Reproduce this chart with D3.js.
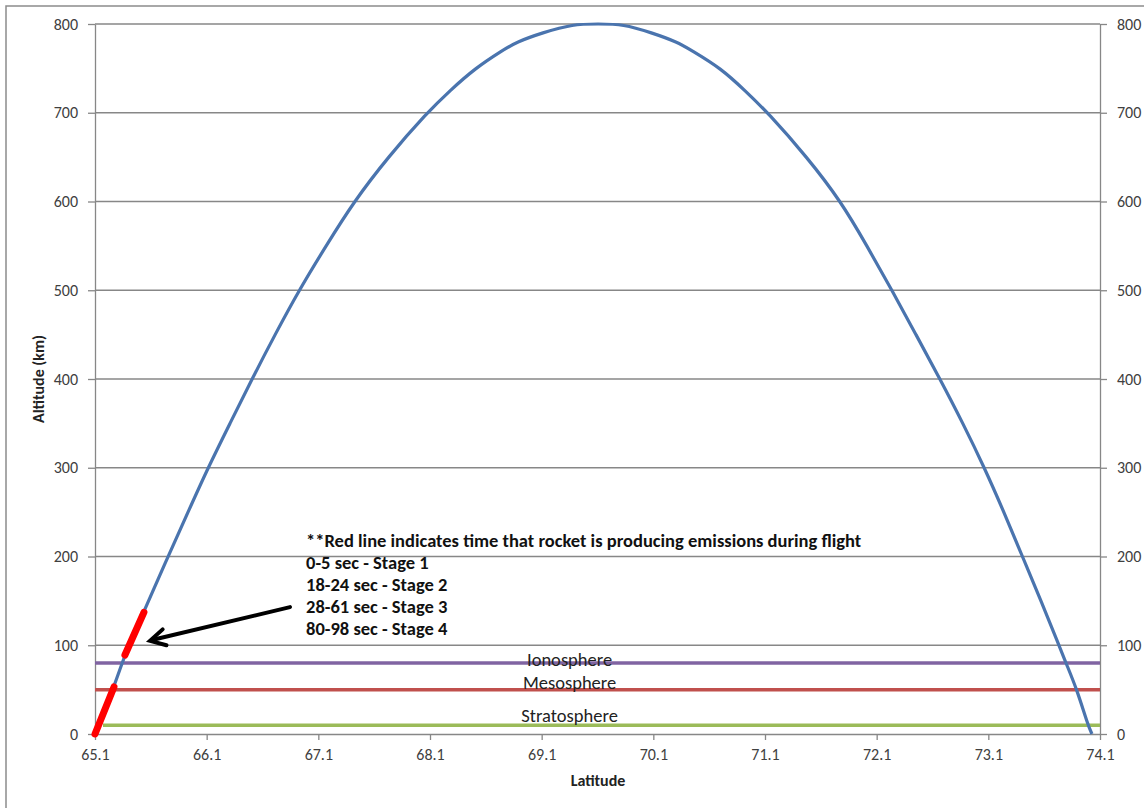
<!DOCTYPE html>
<html>
<head>
<meta charset="utf-8">
<script src="https://cdn.jsdelivr.net/npm/d3@7"></script>
<style>
  html, body { margin: 0; padding: 0; background: #fff; }
  svg { display: block; font-family: Carlito, Calibri, Lato, "Open Sans", sans-serif; }
</style>
</head>
<body>
<svg id="chart" width="1144" height="808"></svg>
<script>
// ---------- data ----------
const trajectoryLat = [65.1, 65.261, 65.342, 65.404, 65.754, 65.933, 66.112, 66.309, 66.506, 66.712, 66.927, 67.169, 67.419, 67.724, 68.073, 68.279, 68.503, 68.745, 68.88, 69.103, 69.381, 69.605, 69.828,
                       70.088, 70.31, 70.446, 70.706, 70.921, 71.127, 71.476, 71.781, 72.013, 72.237, 72.452, 72.667, 72.873, 73.065, 73.24, 73.405, 73.572, 73.733, 73.795, 73.894, 73.992, 74.028];
const trajectoryAlt = [0, 50, 80, 100, 200, 250, 300, 350, 400, 450, 500, 550, 600, 650, 700, 725, 750, 770, 780, 790, 800, 800, 800,
                       790, 780, 770, 750, 725, 700, 650, 600, 550, 500, 450, 400, 350, 300, 250, 200, 150, 100, 80, 50, 10, 0];

const emissionSeg1Lat = [65.1, 65.27];
const emissionSeg1Alt = [0, 53];
const emissionSeg2Lat = [65.368, 65.538];
const emissionSeg2Alt = [89, 137];

const layerNames = ["Ionosphere", "Mesosphere", "Stratosphere"];
const layerAlt = [80, 50, 10];
const layerColors = ["#8064A2", "#C0504D", "#9BBB59"];

const xTicks = [65.1, 66.1, 67.1, 68.1, 69.1, 70.1, 71.1, 72.1, 73.1, 74.1];
const yTicks = [0, 100, 200, 300, 400, 500, 600, 700, 800];

const noteLines = [
  "**Red line indicates time that rocket is producing emissions during flight",
  "0-5 sec - Stage 1",
  "18-24 sec - Stage 2",
  "28-61 sec - Stage 3",
  "80-98 sec - Stage 4"
];
const noteAnchor = { lat: 66.99, alt: 211 };
const arrowFrom = { lat: 66.846, alt: 143 };
const arrowTo = { lat: 65.593, alt: 105 };

// ---------- layout ----------
const svg = d3.select("#chart");
const L = 95, R = 1100, T = 24, B = 734;
const x = d3.scaleLinear().domain([65.1, 74.1]).range([L, R]);
const y = d3.scaleLinear().domain([0, 800]).range([B, T]);
const gridColor = "#878787";
const textColor = "#404040";
const FONT = "Carlito, Calibri, Lato, 'Open Sans', sans-serif";

// outer frame
svg.append("rect").attr("x", 6).attr("y", 6).attr("width", 1160).attr("height", 830)
  .attr("fill", "none").attr("stroke", "#8c8c8c").attr("stroke-width", 1.5);

// gridlines
svg.append("g").selectAll("line").data(yTicks.filter(d => d > 0)).join("line")
  .attr("x1", L).attr("x2", R).attr("y1", d => y(d)).attr("y2", d => y(d))
  .attr("stroke", gridColor).attr("stroke-width", 1.3);

// axes
function styleAxis(g) {
  g.selectAll(".domain").attr("stroke", gridColor).attr("stroke-width", 1.3);
  g.selectAll(".tick line").attr("stroke", gridColor).attr("stroke-width", 1.3);
  g.selectAll(".tick text").attr("fill", textColor).style("font-size", "16px")
    .style("font-family", FONT);
}
svg.append("g").attr("transform", `translate(${L},0)`)
  .call(d3.axisLeft(y).tickValues(yTicks).tickSize(7).tickSizeOuter(0).tickPadding(10).tickFormat(d3.format("d")))
  .call(styleAxis);
svg.append("g").attr("transform", `translate(${R},0)`)
  .call(d3.axisRight(y).tickValues(yTicks).tickSize(7).tickSizeOuter(0).tickPadding(10).tickFormat(d3.format("d")))
  .call(styleAxis);
svg.append("g").attr("transform", `translate(0,${B})`)
  .call(d3.axisBottom(x).tickValues(xTicks).tickSize(6).tickSizeOuter(0).tickPadding(9).tickFormat(d3.format(".1f")))
  .call(styleAxis);

// atmosphere layer lines
const layers = layerNames.map((n, i) => ({ name: n, alt: layerAlt[i], color: layerColors[i] }));
svg.append("g").selectAll("line").data(layers).join("line")
  .attr("x1", (d, i) => x(65.1) + (i === 2 ? 8 : 0)).attr("x2", x(74.1))
  .attr("y1", d => y(d.alt)).attr("y2", d => y(d.alt))
  .attr("stroke", d => d.color).attr("stroke-width", 3.5);

const layerLabelOffset = [3, -1, -3];
svg.append("g").selectAll("text").data(layers).join("text")
  .attr("x", x(69.35)).attr("y", (d, i) => y(d.alt) + layerLabelOffset[i])
  .attr("text-anchor", "middle").attr("fill", "#222")
  .style("font-size", "18.5px").text(d => d.name);

// trajectory
const traj = trajectoryLat.map((v, i) => [v, trajectoryAlt[i]]);
const line = d3.line().x(d => x(d[0])).y(d => y(d[1])).curve(d3.curveBasis);
svg.append("path").datum(traj).attr("d", line)
  .attr("fill", "none").attr("stroke", "#4A74AE").attr("stroke-width", 3.2);

// emission segments
const segs = [
  emissionSeg1Lat.map((v, i) => [v, emissionSeg1Alt[i]]),
  emissionSeg2Lat.map((v, i) => [v, emissionSeg2Alt[i]])
];
const segLine = d3.line().x(d => x(d[0])).y(d => y(d[1]));
svg.append("g").selectAll("path").data(segs).join("path")
  .attr("d", segLine).attr("fill", "none").attr("stroke", "#FF0000")
  .attr("stroke-width", 7).attr("stroke-linecap", "round");

// annotation text
const note = svg.append("text").attr("x", x(noteAnchor.lat)).attr("y", y(noteAnchor.alt))
  .attr("fill", "#111").style("font-size", "18.5px").style("font-weight", "bold");
note.selectAll("tspan").data(noteLines).join("tspan")
  .attr("x", x(noteAnchor.lat)).attr("dy", (d, i) => i === 0 ? 0 : 22).text(d => d);

// arrow
const ax1 = x(arrowFrom.lat), ay1 = y(arrowFrom.alt), ax2 = x(arrowTo.lat), ay2 = y(arrowTo.alt);
svg.append("line").attr("x1", ax1).attr("y1", ay1).attr("x2", ax2 + 3).attr("y2", ay2 - 1)
  .attr("stroke", "#000").attr("stroke-width", 4).attr("stroke-linecap", "round");
const ang = Math.atan2(ay2 - ay1, ax2 - ax1);
const hl = 17, hw = 0.5;
const p1 = [ax2 - hl * Math.cos(ang - hw), ay2 - hl * Math.sin(ang - hw)];
const p2 = [ax2 - hl * Math.cos(ang + hw), ay2 - hl * Math.sin(ang + hw)];
svg.append("path").attr("d", `M${p1[0]},${p1[1]} L${ax2},${ay2} L${p2[0]},${p2[1]}`)
  .attr("fill", "none").attr("stroke", "#000").attr("stroke-width", 4)
  .attr("stroke-linejoin", "miter").attr("stroke-linecap", "round");

// axis titles
svg.append("text").attr("x", 598).attr("y", 786).attr("text-anchor", "middle")
  .attr("fill", "#222").style("font-size", "16px").style("font-weight", "bold").text("Latitude");
svg.append("text").attr("transform", `translate(44,${(T + B) / 2}) rotate(-90)`)
  .attr("text-anchor", "middle").attr("fill", "#222")
  .style("font-size", "16px").style("font-weight", "bold").text("Altitude (km)");
</script>
</body>
</html>
